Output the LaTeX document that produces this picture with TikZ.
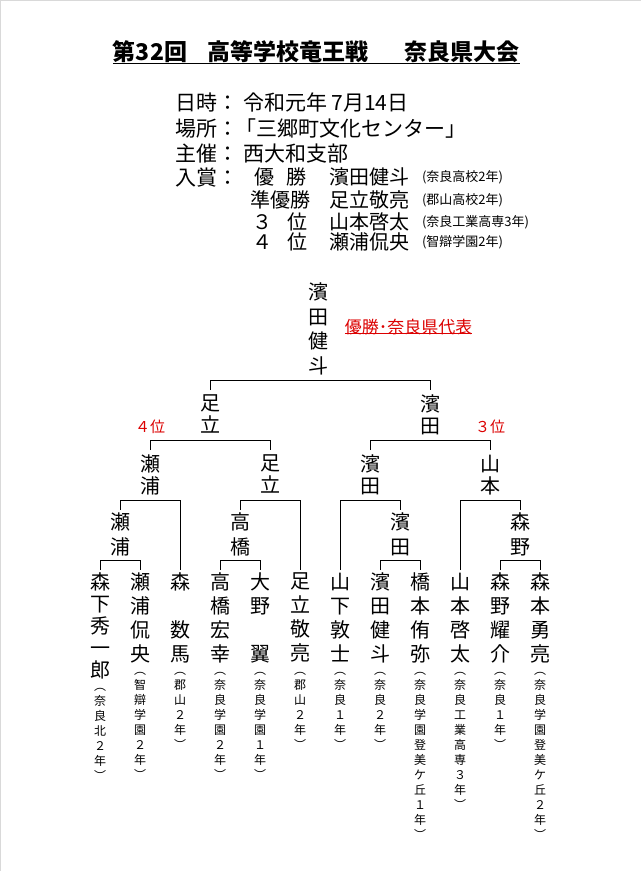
\documentclass[tikz,border=0pt]{standalone}
\usepackage{fontspec}
\setmainfont{Noto Sans CJK JP}
\definecolor{rd}{RGB}{220,0,0}
\newcommand\bout[4]{\draw ([yshift=#4]#1.north) -- (#1.north |- #3) -- (#2.north |- #3) -- ([yshift=#4]#2.north);}
\begin{document}
\begin{tikzpicture}[x=1pt,y=-1pt,
  base/.style={inner sep=0pt, outer sep=0pt},
  info/.style={base, anchor=west, text height=18.5pt, text depth=2.5pt, font=\fontsize{21}{21}\selectfont},
  prize/.style={base, anchor=west, text height=17.6pt, text depth=2.4pt, font=\fontsize{20}{20}\selectfont},
  small/.style={base, anchor=west, text height=11.4pt, text depth=1.6pt, font=\fontsize{13}{13}\selectfont},
  ttl/.style={base, text height=20.2pt, text depth=2.8pt, font=\bfseries\fontsize{23}{23}\selectfont},
  redlab/.style={base, text=rd, text height=15pt, text depth=2pt, font=\fontsize{17}{17}\selectfont},
  redrank/.style={base, text=rd, text height=13.2pt, text depth=1.8pt, font=\fontsize{15}{15}\selectfont},
  vn/.style={base, anchor=north, align=center, execute at begin node={\rule{0pt}{.88em}}},
  vname/.style={vn, font=\fontsize{20}{#1}\selectfont},
  vname/.default=24,
  aff/.style={vn, font=\fontsize{12}{15}\selectfont},
  bline/.style={line width=0.8pt, black}
]
\useasboundingbox (0,0) rectangle (641,871);
\fill[white] (0,0) rectangle (641,871);
\draw[gray!30, line width=1pt] (0.5,871) -- (0.5,0.5) -- (641,0.5);

% title
\node[ttl] (t1) at (150,52) {第32回};
\node[ttl] (t2) at (287.5,52) {高等学校竜王戦};
\node[ttl] (t3) at (462,52) {奈良県大会};
\draw[line width=1.5pt] (t1.south west) -- (t3.south east);

% info block
\node[info] (d1) at (175,102) {日時：};
\node[info] (d1v) at (243,102) {令和元年 7月14日};
\node[info] (d2) at (175,128) {場所：};
\node[info] (d2v) at (235,128) {「三郷町文化センター」};
\node[info] (d3) at (175,153) {主催：};
\node[info] (d3v) at (243,153) {西大和支部};
\node[info] (d4) at (175,177) {入賞：};
\node[prize, anchor=center] (d4a) at (264,177) {優};
\node[prize, anchor=center] (d4b) at (296,177) {勝};
\node[prize] (d4n) at (329,177) {濱田健斗};
\node[small] (d4s) at (422,177) {(奈良高校2年)};
\node[prize, anchor=center] (d5a) at (280,200) {準優勝};
\node[prize] (d5n) at (329,200) {足立敬亮};
\node[small] (d5s) at (422,200) {(郡山高校2年)};
\node[prize, anchor=center] (d6a) at (262,222) {３};
\node[prize, anchor=center] (d6b) at (297,222) {位};
\node[prize] (d6n) at (329,222) {山本啓太};
\node[small] (d6s) at (422,222) {(奈良工業高専3年)};
\node[prize, anchor=center] (d7a) at (262,242) {４};
\node[prize, anchor=center] (d7b) at (297,242) {位};
\node[prize] (d7n) at (329,242) {瀬浦侃央};
\node[small] (d7s) at (422,242) {(智辯学園2年)};

% winner
\node[vname=24.5] (w) at (318,283) {濱\\田\\健\\斗};
\node[redlab] (lab) at (408.5,327) {優勝･奈良県代表};
\draw[rd, line width=0.8pt] ([yshift=2pt]lab.south west) -- ([yshift=2pt]lab.south east);

% level 2
\node[vname=22] (q1) at (210,395) {足\\立};
\node[vname=22] (q2) at (430,395) {濱\\田};
\node[redrank] (r4th) at (150,427) {４位};
\node[redrank] (r3rd) at (490,427) {３位};

% level 3
\node[vname=22] (s1) at (150,455) {瀬\\浦};
\node[vname=22] (s2) at (270,455) {足\\立};
\node[vname=22] (s3) at (370,455) {濱\\田};
\node[vname=22] (s4) at (490,455) {山\\本};

% level 4
\node[vname=24.5] (r1) at (120,513) {瀬\\浦};
\node[vname=24.5] (r2) at (240,513) {高\\橋};
\node[vname=24.5] (r3) at (400,513) {濱\\田};
\node[vname=24.5] (r4) at (520,513) {森\\野};

% players
\node[vname=22] (p1) at (100,573) {森\\下\\秀\\一\\郎};
\node[vname] (p2) at (140,573) {瀬\\浦\\侃\\央};
\node[vname] (p3) at (180,573) {森\\　\\数\\馬};
\node[vname] (p4) at (220,573) {高\\橋\\宏\\幸};
\node[vname] (p5) at (260,573) {大\\野\\　\\翼};
\node[vname] (p6) at (300,573) {足\\立\\敬\\亮};
\node[vname] (p7) at (340,573) {山\\下\\敦\\士};
\node[vname] (p8) at (380,573) {濱\\田\\健\\斗};
\node[vname] (p9) at (420,573) {橋\\本\\侑\\弥};
\node[vname] (p10) at (460,573) {山\\本\\啓\\太};
\node[vname] (p11) at (500,573) {森\\野\\耀\\介};
\node[vname] (p12) at (540,573) {森\\本\\勇\\亮};

% affiliations
\node[aff] (a1) at (100,688) {︵\\奈\\良\\北\\２\\年\\︶};
\node[aff] (a2) at (140,672) {︵\\智\\辯\\学\\園\\２\\年\\︶};
\node[aff] (a3) at (180,672) {︵\\郡\\山\\２\\年\\︶};
\node[aff] (a4) at (220,672) {︵\\奈\\良\\学\\園\\２\\年\\︶};
\node[aff] (a5) at (260,672) {︵\\奈\\良\\学\\園\\１\\年\\︶};
\node[aff] (a6) at (300,672) {︵\\郡\\山\\２\\年\\︶};
\node[aff] (a7) at (340,672) {︵\\奈\\良\\１\\年\\︶};
\node[aff] (a8) at (380,672) {︵\\奈\\良\\２\\年\\︶};
\node[aff] (a9) at (420,672) {︵\\奈\\良\\学\\園\\登\\美\\ケ\\丘\\１\\年\\︶};
\node[aff] (a10) at (460,672) {︵\\奈\\良\\工\\業\\高\\専\\３\\年\\︶};
\node[aff] (a11) at (500,672) {︵\\奈\\良\\１\\年\\︶};
\node[aff] (a12) at (540,672) {︵\\奈\\良\\学\\園\\登\\美\\ケ\\丘\\２\\年\\︶};

% bracket
\coordinate (m1) at (320,380);
\coordinate (m2) at (320,440);
\coordinate (m3) at (320,500);
\coordinate (m4) at (320,560);
\begin{scope}[bline]
\bout{q1}{q2}{m1}{5pt}
\bout{s1}{s2}{m2}{5pt}
\bout{s3}{s4}{m2}{5pt}
\bout{r1}{p3}{m3}{3pt}
\bout{r2}{p6}{m3}{3pt}
\bout{p7}{r3}{m3}{3pt}
\bout{p10}{r4}{m3}{3pt}
\bout{p1}{p2}{m4}{3pt}
\bout{p4}{p5}{m4}{3pt}
\bout{p8}{p9}{m4}{3pt}
\bout{p11}{p12}{m4}{3pt}
\end{scope}
\end{tikzpicture}
\end{document}
